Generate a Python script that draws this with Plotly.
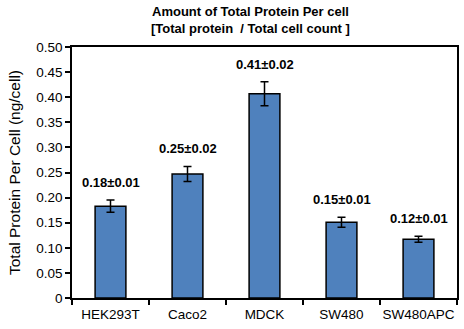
import plotly.graph_objects as go

categories = ["HEK293T", "Caco2", "MDCK", "SW480", "SW480APC"]
values = [0.183, 0.247, 0.407, 0.151, 0.117]
errors = [0.012, 0.015, 0.024, 0.010, 0.006]
labels = ["0.18±0.01", "0.25±0.02", "0.41±0.02", "0.15±0.01", "0.12±0.01"]
ytick_vals = [0, 0.05, 0.10, 0.15, 0.20, 0.25, 0.30, 0.35, 0.40, 0.45, 0.50]
ytick_text = ["0", "0.05", "0.10", "0.15", "0.20", "0.25", "0.30", "0.35", "0.40", "0.45", "0.50"]
title_lines = ["Amount of Total Protein Per cell", "[Total protein  / Total cell count ]"]

font = "Liberation Sans, Arial, sans-serif"

fig = go.Figure()
fig.add_trace(go.Bar(
    x=categories, y=values, width=0.4,
    marker=dict(color="#4F81BD", line=dict(color="black", width=1.5)),
    error_y=dict(type="data", array=errors, color="black", thickness=1.5, width=4),
))

for c, v, e, t in zip(categories, values, errors, labels):
    fig.add_annotation(x=c, y=v + e, text="<b>" + t + "</b>", showarrow=False,
                       yanchor="bottom", yshift=8,
                       font=dict(family=font, size=13, color="black"))

for i, line in enumerate(title_lines):
    fig.add_annotation(xref="paper", yref="paper", x=0.4625, y=1, yshift=36 - 17 * i,
                       xanchor="center", yanchor="middle", showarrow=False,
                       text="<b>" + line + "</b>",
                       font=dict(family=font, size=13, color="black"))

fig.update_layout(
    width=464, height=329,
    margin=dict(l=72, r=5, t=47, b=31),
    paper_bgcolor="white", plot_bgcolor="white",
    showlegend=False,
    font=dict(family=font, color="black"),
    xaxis=dict(showline=True, linecolor="black", linewidth=1.5, mirror=True,
               ticks="outside", ticklen=5, tickcolor="black", tickwidth=1.5,
               tickson="boundaries", tickangle=0, ticklabelstandoff=3,
               tickfont=dict(size=13.5), showgrid=False),
    yaxis=dict(range=[0, 0.5], showline=True, linecolor="black", linewidth=1.5, mirror=True,
               tickvals=ytick_vals, ticktext=ytick_text,
               ticks="outside", ticklen=5, tickcolor="black", tickwidth=1.5,
               tickfont=dict(size=13.5), showgrid=False, zeroline=False,
               title=dict(text="Total Protein Per Cell (ng/cell)", font=dict(size=15.5), standoff=12)),
)

fig.write_html("out.html")
